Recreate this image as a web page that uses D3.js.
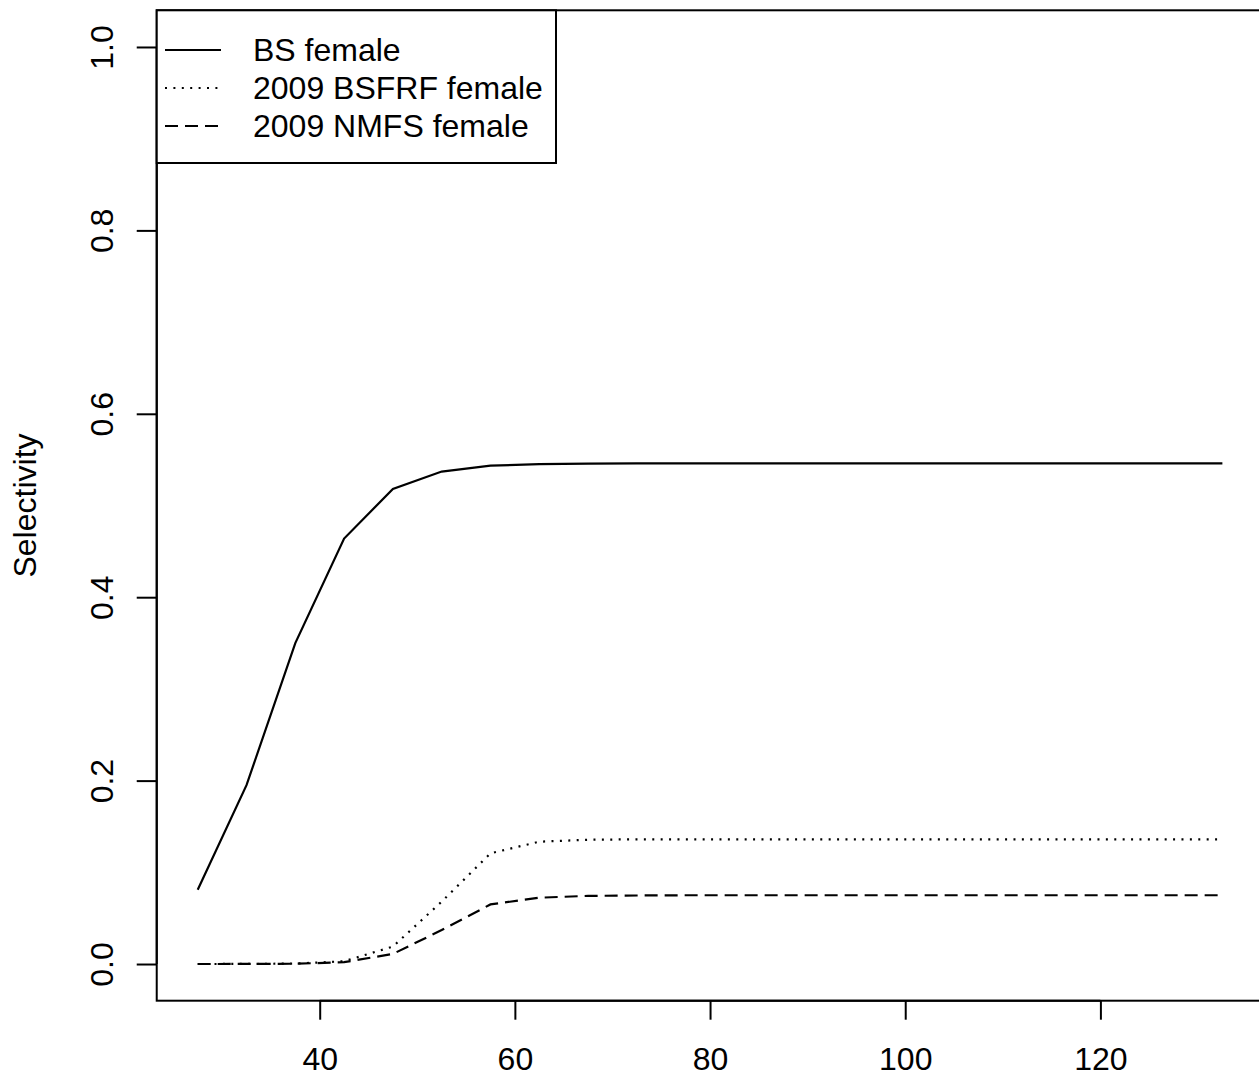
<!DOCTYPE html>
<html>
<head>
<meta charset="utf-8">
<script src="https://cdn.jsdelivr.net/npm/d3@7"></script>
<style>
  html, body { margin: 0; padding: 0; background: #fff; overflow: hidden; }
  svg { display: block; }
  text { font-family: "Liberation Sans", Arial, Helvetica, sans-serif; fill: #000; }
</style>
</head>
<body>
<svg id="chart" width="1259" height="1076"></svg>
<script>
// ---- data ----
const lengths = [27.5, 32.5, 37.5, 42.5, 47.5, 52.5, 57.5, 62.5, 67.5, 72.5, 77.5,
                 82.5, 87.5, 92.5, 97.5, 102.5, 107.5, 112.5, 117.5, 122.5, 127.5, 132.5];
const bsFemale = [0.081, 0.195, 0.350, 0.464, 0.518, 0.537, 0.5434, 0.5452, 0.5457, 0.546, 0.546,
                  0.546, 0.546, 0.546, 0.546, 0.546, 0.546, 0.546, 0.546, 0.546, 0.546, 0.546];
const bsfrfFemale = [0.0, 0.0001, 0.0005, 0.003, 0.019, 0.068, 0.1207, 0.1334, 0.1355, 0.136, 0.136,
                     0.136, 0.136, 0.136, 0.136, 0.136, 0.136, 0.136, 0.136, 0.136, 0.136, 0.136];
const nmfsFemale = [0.0, 0.0001, 0.0003, 0.002, 0.011, 0.037, 0.065, 0.0723, 0.0743, 0.0747, 0.075,
                    0.075, 0.075, 0.075, 0.075, 0.075, 0.075, 0.075, 0.075, 0.075, 0.075, 0.075];
const seriesNames = ["BS female", "2009 BSFRF female", "2009 NMFS female"];
const xTicks = [40, 60, 80, 100, 120];
const yTicks = [0.0, 0.2, 0.4, 0.6, 0.8, 1.0];
const yLabel = "Selectivity";

// ---- layout ----
const svg = d3.select("#chart");
const FONT = 32;
const pxPerUnit = (1100.4 - 319.7) / 80;
const xMin = 23.3, xMax = 136.7;
const x = d3.scaleLinear().domain([xMin, xMax])
  .range([319.7 - (40 - xMin) * pxPerUnit, 319.7 + (xMax - 40) * pxPerUnit]);
const y = d3.scaleLinear().domain([-0.04, 1.04]).range([1000.7, 10.3]);

const styles = [
  { dash: null },
  { dash: "2,6.4" },
  { dash: "13,7" }
];
const series = [bsFemale, bsfrfFemale, nmfsFemale];

const line = d3.line().x((d, i) => x(lengths[i])).y(d => y(d));

series.forEach((s, k) => {
  svg.append("path")
    .datum(s)
    .attr("d", line)
    .attr("fill", "none")
    .attr("stroke", "#000")
    .attr("stroke-width", 2.2)
    .attr("stroke-dasharray", styles[k].dash);
});

// box
svg.append("rect")
  .attr("x", x(xMin)).attr("y", y(1.04))
  .attr("width", x(xMax) - x(xMin)).attr("height", y(-0.04) - y(1.04))
  .attr("fill", "none").attr("stroke", "#000").attr("stroke-width", 2);

// x axis
const xAxis = d3.axisBottom(x).tickValues(xTicks).tickSize(19).tickPadding(0).tickFormat(d3.format("d"));
const gx = svg.append("g").attr("transform", `translate(0,${y(-0.04)})`).call(xAxis);
gx.select(".domain").attr("d", `M${x(xTicks[0])},0H${x(xTicks[xTicks.length-1])}`).attr("stroke-width", 2);
gx.selectAll(".tick line").attr("stroke-width", 2);
gx.selectAll(".tick text")
  .attr("font-size", FONT)
  .attr("font-family", "Liberation Sans, Arial, sans-serif")
  .attr("y", 69).attr("dy", 0);

// y axis
const yAxis = d3.axisLeft(y).tickValues(yTicks).tickSize(20).tickFormat(d3.format(".1f"));
const gy = svg.append("g").attr("transform", `translate(${x(xMin)},0)`).call(yAxis);
gy.select(".domain").attr("d", `M0,${y(0)}V${y(1)}`).attr("stroke-width", 2);
gy.selectAll(".tick line").attr("stroke-width", 2);
gy.selectAll(".tick text")
  .attr("font-size", FONT)
  .attr("font-family", "Liberation Sans, Arial, sans-serif")
  .attr("x", null).attr("dy", null)
  .attr("text-anchor", "middle")
  .attr("transform", `translate(${113 - x(xMin)},0) rotate(-90)`);

// y label
svg.append("text")
  .attr("transform", `translate(36,${(y(-0.04) + y(1.04)) / 2}) rotate(-90)`)
  .attr("text-anchor", "middle")
  .attr("font-size", FONT)
  .text(yLabel);

// legend
const lg = svg.append("g");
lg.append("rect")
  .attr("x", x(xMin)).attr("y", y(1.04))
  .attr("width", 556 - x(xMin)).attr("height", 163 - y(1.04))
  .attr("fill", "#fff").attr("stroke", "#000").attr("stroke-width", 2);
const legendY = [50, 88, 126];
seriesNames.forEach((name, k) => {
  lg.append("line")
    .attr("x1", 165).attr("x2", 221)
    .attr("y1", legendY[k]).attr("y2", legendY[k])
    .attr("stroke", "#000").attr("stroke-width", 2)
    .attr("stroke-dasharray", styles[k].dash);
  lg.append("text")
    .attr("x", 253).attr("y", legendY[k] + 11)
    .attr("font-size", FONT)
    .text(name);
});
</script>
</body>
</html>
